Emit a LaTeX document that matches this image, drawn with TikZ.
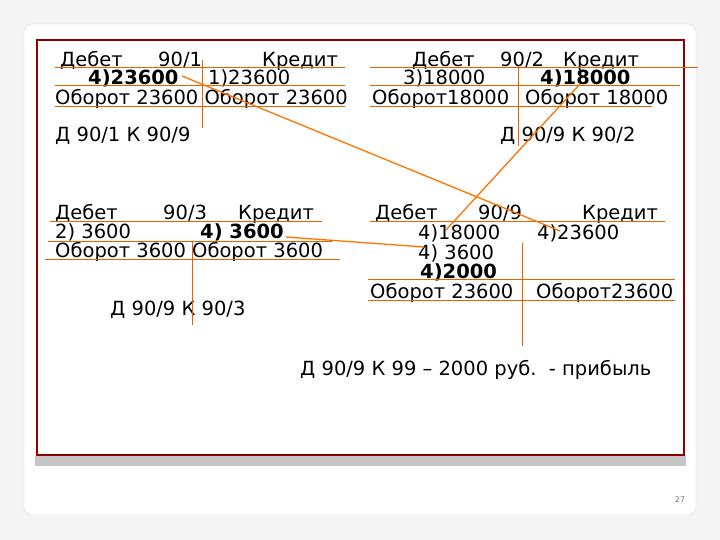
\documentclass[tikz,border=0pt]{standalone}
\usepackage{fontspec}
\setmainfont{DejaVu Sans}
\begin{document}
\begin{tikzpicture}[x=1pt,y=-1pt,
  t/.style={anchor=base west,inner sep=0pt,font=\fontsize{19.5}{22}\selectfont},
  tb/.style={t,font=\fontsize{19.5}{22}\selectfont\bfseries},
  ol/.style={draw=orange!85!red!90!black,line width=1pt},
  dl/.style={draw=orange!90!red,line width=1.3pt}]
\useasboundingbox (0,0) rectangle (720,540);
\fill[gray!8] (0,0) rectangle (720,540);
\filldraw[fill=white,draw=gray!30,rounded corners=8pt] (24,24) rectangle (696,515) ;
\fill[gray!45] (35,452) rectangle (686,466);
\fill[white] (35,38) rectangle (686,456);
\draw[draw=red!55!black,line width=2.5pt] (37,40) rectangle (684,455);
\node[anchor=center,text=gray,font=\fontsize{8}{9}\selectfont] (pg) at (680,500) {27};
% top-left
\node[t] (a1) at (60,67) {Дебет};
\node[t] (a2) at (158,67) {90/1};
\node[t] (a3) at (262,67) {Кредит};
\node[tb] (a4) at (88,85) {4)23600};
\node[t] (a5) at (208,85) {1)23600};
\node[t] (a6) at (55,105) {Оборот 23600 Оборот 23600};
\node[t] (a7) at (55,142) {Д 90/1 К 90/9};
\draw[ol] (55,68) -- (345,68) (55,86) -- (345,86) (55,107) -- (345,107) (202,60) -- (202,128);
% top-right
\node[t] (b1) at (412,67) {Дебет};
\node[t] (b2) at (500,67) {90/2};
\node[t] (b3) at (563,67) {Кредит};
\node[t] (b4) at (403,85) {3)18000};
\node[tb] (b5) at (540,85) {4)18000};
\node[t] (b6) at (372,105) {Оборот18000};
\node[t] (b7) at (525,105) {Оборот 18000};
\node[t] (b8) at (500,142) {Д 90/9 К 90/2};
\draw[ol] (370,68) -- (698,68) (370,86) -- (680,86) (370,107) -- (652,107) (518,66) -- (518,146);
% bottom-left
\node[t] (c1) at (55,220) {Дебет};
\node[t] (c2) at (163,220) {90/3};
\node[t] (c3) at (238,220) {Кредит};
\node[t] (c4) at (55,239) {2) 3600};
\node[tb] (c5) at (200,239) {4) 3600};
\node[t] (c6) at (55,257) {Оборот 3600 Оборот 3600};
\node[t] (c7) at (110,315) {Д 90/9 К 90/3};
\draw[ol] (50,222) -- (322,222) (48,241) -- (332,241) (45,259) -- (340,259) (192,241) -- (192,325);
% bottom-right
\node[t] (d1) at (375,220) {Дебет};
\node[t] (d2) at (478,220) {90/9};
\node[t] (d3) at (582,220) {Кредит};
\node[t] (d4) at (418,240) {4)18000};
\node[t] (d5) at (537,240) {4)23600};
\node[t] (d6) at (418,259) {4) 3600};
\node[tb] (d7) at (420,278) {4)2000};
\node[t] (d8) at (370,298) {Оборот 23600};
\node[t] (d9) at (536,298) {Оборот23600};
\node[t] (d10) at (300,375) {Д 90/9 К 99 – 2000 руб.\ \ - прибыль};
\draw[ol] (370,222) -- (665,222) (368,279) -- (675,279) (368,300) -- (675,300) (522,243) -- (522,346);
% connectors
\coordinate (p1) at (182,76); \coordinate (q1) at (560,231);
\coordinate (p2) at (580,84); \coordinate (q2) at (446,230);
\coordinate (p3) at (286,237); \coordinate (q3) at (424,247);
\draw[dl] (p1) -- (q1);
\draw[dl] (p2) -- (q2);
\draw[dl] (p3) -- (q3);
\end{tikzpicture}
\end{document}
